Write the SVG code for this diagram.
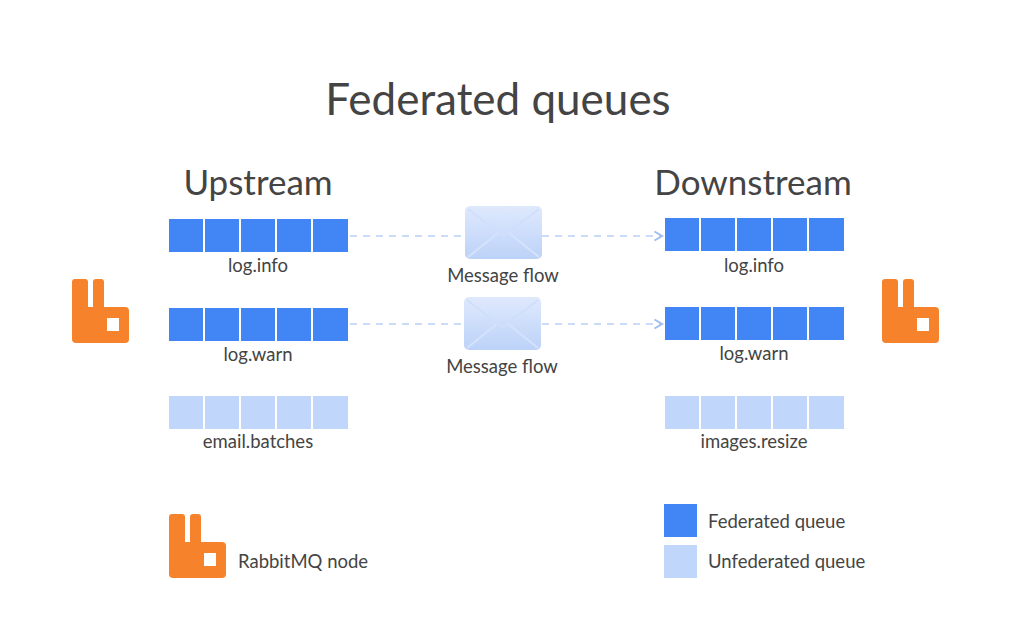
<svg xmlns="http://www.w3.org/2000/svg" width="1024" height="641" viewBox="0 0 1024 641">
<defs>
<style>
text{font-family:Lato,"Open Sans",sans-serif;fill:#444;}
.lbl{font-size:18.5px;text-anchor:middle;}
.fq{fill:#4286f5;}
.uq{fill:#c0d6fb;}
.logo{fill:#f6822b;}
.flow{stroke:#b9d1f6;stroke-width:1.5;stroke-dasharray:7 6;fill:none;}
</style>
<linearGradient id="env" x1="0" y1="0" x2="0" y2="1"><stop offset="0" stop-color="#dfe9fd"/><stop offset="1" stop-color="#bcd2f8"/></linearGradient>
<marker id="arr" markerWidth="8" markerHeight="8" refX="6" refY="4" orient="auto"><path d="M1,1 L6,4 L1,7" fill="none" stroke="#9dbcef" stroke-width="1.3"/></marker>
<g id="q5"><rect x="0" y="0" width="34" height="33"/><rect x="36" y="0" width="34" height="33"/><rect x="72" y="0" width="34" height="33"/><rect x="108" y="0" width="34" height="33"/><rect x="144" y="0" width="35" height="33"/></g>
<g id="rabbit"><rect x="0" y="0" width="16" height="40" rx="3"/><rect x="21" y="0" width="11" height="40" rx="3"/><rect x="0" y="28" width="57" height="36" rx="4"/><rect x="35" y="39" width="12" height="13" fill="#fff"/></g>
<g id="envelope"><rect x="0" y="0" width="77" height="53" rx="5" fill="url(#env)"/><path d="M3,3 L38.5,30 L74,3" fill="none" stroke="#cfdffb" stroke-width="2"/><path d="M3,51 L33,27 M74,51 L44,27" stroke="#d4e2fc" stroke-width="2"/></g>
</defs>
<rect width="1024" height="641" fill="#fff"/>
<text x="498" y="115" font-size="44" text-anchor="middle">Federated queues</text>
<text x="258" y="195" font-size="35" text-anchor="middle">Upstream</text>
<text x="753" y="195" font-size="35" text-anchor="middle">Downstream</text>
<g id="connectors">
<line class="flow" x1="350" y1="236" x2="465" y2="236"/>
<line class="flow" x1="542" y1="236" x2="662" y2="236" marker-end="url(#arr)"/>
<line class="flow" x1="350" y1="324" x2="465" y2="324"/>
<line class="flow" x1="542" y1="324" x2="662" y2="324" marker-end="url(#arr)"/>
</g>
<g id="up-rabbit" class="logo"><use href="#rabbit" x="72" y="279"/></g>
<g id="down-rabbit" class="logo"><use href="#rabbit" x="882" y="279"/></g>
<g id="up-log-info" class="fq"><use href="#q5" x="169" y="219"/><text class="lbl" x="258" y="272">log.info</text></g>
<g id="up-log-warn" class="fq"><use href="#q5" x="169" y="308"/><text class="lbl" x="258" y="361">log.warn</text></g>
<g id="up-email" class="uq"><use href="#q5" x="169" y="396"/><text class="lbl" x="258" y="448">email.batches</text></g>
<g id="down-log-info" class="fq"><use href="#q5" x="665" y="218"/><text class="lbl" x="754" y="272">log.info</text></g>
<g id="down-log-warn" class="fq"><use href="#q5" x="665" y="307"/><text class="lbl" x="754" y="360">log.warn</text></g>
<g id="down-images" class="uq"><use href="#q5" x="665" y="396"/><text class="lbl" x="754" y="448">images.resize</text></g>
<g id="env1"><use href="#envelope" x="465" y="206"/><text class="lbl" x="503" y="282">Message flow</text></g>
<g id="env2"><use href="#envelope" x="464" y="297"/><text class="lbl" x="502" y="373">Message flow</text></g>
<g id="legend-node" class="logo"><use href="#rabbit" x="169" y="514"/><text x="238" y="568" font-size="18.5">RabbitMQ node</text></g>
<g id="legend-fed"><rect class="fq" x="664" y="504" width="33" height="33"/><text x="708" y="528" font-size="18.5">Federated queue</text></g>
<g id="legend-unfed"><rect class="uq" x="664" y="545" width="33" height="33"/><text x="708" y="568" font-size="18.5">Unfederated queue</text></g>
</svg>
